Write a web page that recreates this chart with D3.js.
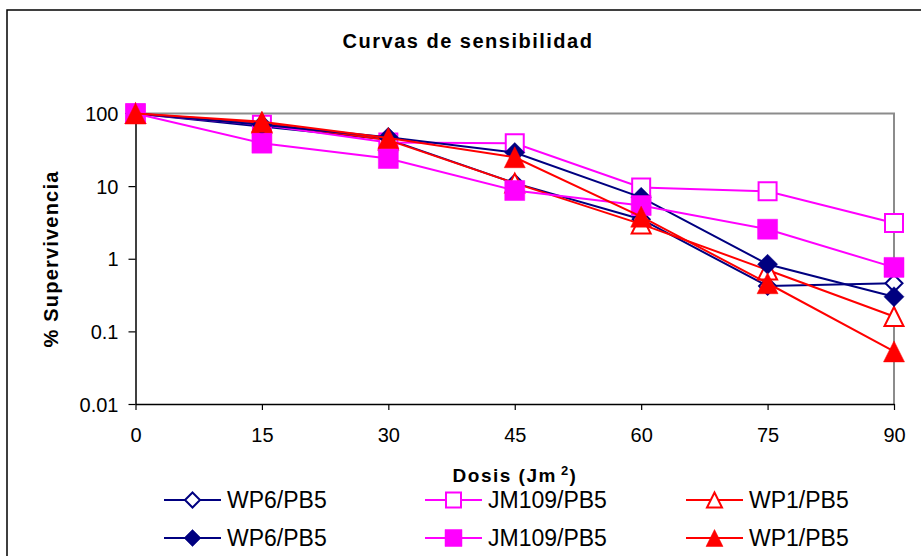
<!DOCTYPE html>
<html><head><meta charset="utf-8">
<script src="https://cdn.jsdelivr.net/npm/d3@7"></script>
<style>body{margin:0;background:#fff}svg{display:block}text{font-family:"Liberation Sans",Arial,sans-serif;fill:#000}</style>
</head><body><svg id="c" width="921" height="556"></svg>
<script>
// ---- data ----
const doses = [0, 15, 30, 45, 60, 75, 90];
const wp6Open     = [100, 66, 44, 11, 3.5, 0.42, 0.46];
const wp6Filled   = [100, 70, 47, 29, 7.0, 0.84, 0.30];
const jm109Open   = [100, 70, 40, 39, 9.6, 8.5, 3.1];
const jm109Filled = [100, 39, 24, 8.7, 5.4, 2.55, 0.76];
const wp1Open     = [100, 74, 43, 11, 3.0, 0.70, 0.16];
const wp1Filled   = [100, 77, 46, 25, 3.8, 0.46, 0.053];
const seriesLabels = ["WP6/PB5", "JM109/PB5", "WP1/PB5", "WP6/PB5", "JM109/PB5", "WP1/PB5"];
const yTickValues = [0.01, 0.1, 1, 10, 100];
const yTickLabels = ["0.01", "0.1", "1", "10", "100"];
const xTickValues = [0, 15, 30, 45, 60, 75, 90];
const titleText = "Curvas de sensibilidad";
const yTitle = "% Supervivencia";

// ---- styles ----
const NAVY = "#000080", MAG = "#FF00FF", RED = "#FF0000";
const series = [
  {values: wp6Open,     color: NAVY, shape: "diamond",  filled: false},
  {values: jm109Open,   color: MAG,  shape: "square",   filled: false},
  {values: wp1Open,     color: RED,  shape: "triangle", filled: false},
  {values: wp6Filled,   color: NAVY, shape: "diamond",  filled: true},
  {values: jm109Filled, color: MAG,  shape: "square",   filled: true},
  {values: wp1Filled,   color: RED,  shape: "triangle", filled: true}
].map((s, i) => ({...s, label: seriesLabels[i]}));

const svg = d3.select("#c");
const FONT = '"Liberation Sans", Arial, sans-serif';

// outer frame
svg.append("rect").attr("x", 7).attr("y", 10).attr("width", 940).attr("height", 570)
  .attr("fill", "none").attr("stroke", "#000").attr("stroke-width", 1.5);

const x = d3.scaleLinear().domain([0, 90]).range([135.5, 894]);
const y = d3.scaleLog().domain([0.01, 100]).range([404, 113.5]);

// plot frame (grey top/right)
svg.append("path")
  .attr("d", `M${x(0)},${y(100)}H${x(90)}V${y(0.01)}`)
  .attr("fill", "none").attr("stroke", "#8c8c8c").attr("stroke-width", 2);

// axes
const xAxis = d3.axisBottom(x).tickValues(xTickValues).tickSize(6).tickSizeOuter(0).tickPadding(18);
const gx = svg.append("g").attr("transform", `translate(0,${y(0.01)})`).call(xAxis);
const yAxis = d3.axisLeft(y).tickValues(yTickValues).tickFormat((d, i) => yTickLabels[i]).tickSize(7).tickSizeOuter(0).tickPadding(10);
const gy = svg.append("g").attr("transform", `translate(${x(0)},0)`).call(yAxis);
[gx, gy].forEach(g => {
  g.select(".domain").attr("stroke", "#000").attr("stroke-width", 1.5);
  g.selectAll(".tick line").attr("stroke", "#000").attr("stroke-width", 1.2);
  g.selectAll(".tick text").attr("font-family", FONT).attr("font-size", 20).attr("fill", "#000");
});
gy.selectAll(".tick text").attr("dy", "0.35em");

// marker paths (centered at 0,0)
function markerPath(shape, s) {
  const h = s / 2;
  if (shape === "square") return `M${-h},${-h}H${h}V${h}H${-h}Z`;
  if (shape === "diamond") return `M0,${-h}L${h},0L0,${h}L${-h},0Z`;
  return `M0,${-h}L${h},${h}L${-h},${h}Z`;
}
function markerSize(shape) { return shape === "triangle" ? 21 : shape === "square" ? 20 : 20; }
function openSize(shape) { return shape === "triangle" ? 19 : shape === "square" ? 18 : 17; }

const line = d3.line().x((d, i) => x(doses[i])).y(d => y(d));

series.forEach(s => {
  const g = svg.append("g");
  g.append("path").attr("d", line(s.values)).attr("fill", "none")
    .attr("stroke", s.color).attr("stroke-width", 2);
  g.selectAll("path.m").data(s.values).enter().append("path").attr("class", "m")
    .attr("transform", (d, i) => `translate(${x(doses[i])},${y(d)})`)
    .attr("d", markerPath(s.shape, s.filled ? markerSize(s.shape) : openSize(s.shape)))
    .attr("fill", s.filled ? s.color : "#fff")
    .attr("stroke", s.color).attr("stroke-width", s.filled ? 0.5 : 2)
    .attr("stroke-linejoin", "miter");
});

// title
svg.append("text").attr("x", 468).attr("y", 48).attr("text-anchor", "middle")
  .attr("font-size", 20).attr("font-weight", "bold").attr("letter-spacing", 1.5)
  .text(titleText);

// x axis title
const xt = svg.append("text").attr("x", 515).attr("y", 482).attr("text-anchor", "middle")
  .attr("font-size", 19).attr("font-weight", "bold").attr("letter-spacing", 1.5);
xt.append("tspan").text("Dosis (Jm");
xt.append("tspan").attr("dx", 4).attr("dy", -7).attr("font-size", 13).text("2");
xt.append("tspan").attr("dy", 7).text(")");

// y axis title
svg.append("text").attr("transform", "translate(58,259) rotate(-90)").attr("text-anchor", "middle")
  .attr("font-size", 20).attr("font-weight", "bold").attr("letter-spacing", 1.2)
  .text(yTitle);

// legend
const legCols = [164, 425, 686];
const legRows = [500, 538];
series.forEach((s, i) => {
  const lx = legCols[i % 3], ly = legRows[Math.floor(i / 3)];
  const g = svg.append("g").attr("transform", `translate(${lx},${ly})`);
  g.append("line").attr("x1", 0).attr("x2", 57).attr("y1", 0).attr("y2", 0)
    .attr("stroke", s.color).attr("stroke-width", 2);
  g.append("path").attr("transform", "translate(28.5,0)")
    .attr("d", markerPath(s.shape, s.filled ? 17 : 15))
    .attr("fill", s.filled ? s.color : "#fff").attr("stroke", s.color)
    .attr("stroke-width", s.filled ? 0.5 : 2);
  g.append("text").attr("x", 63).attr("y", 8).attr("font-size", 23).text(s.label);
});
</script></body></html>
